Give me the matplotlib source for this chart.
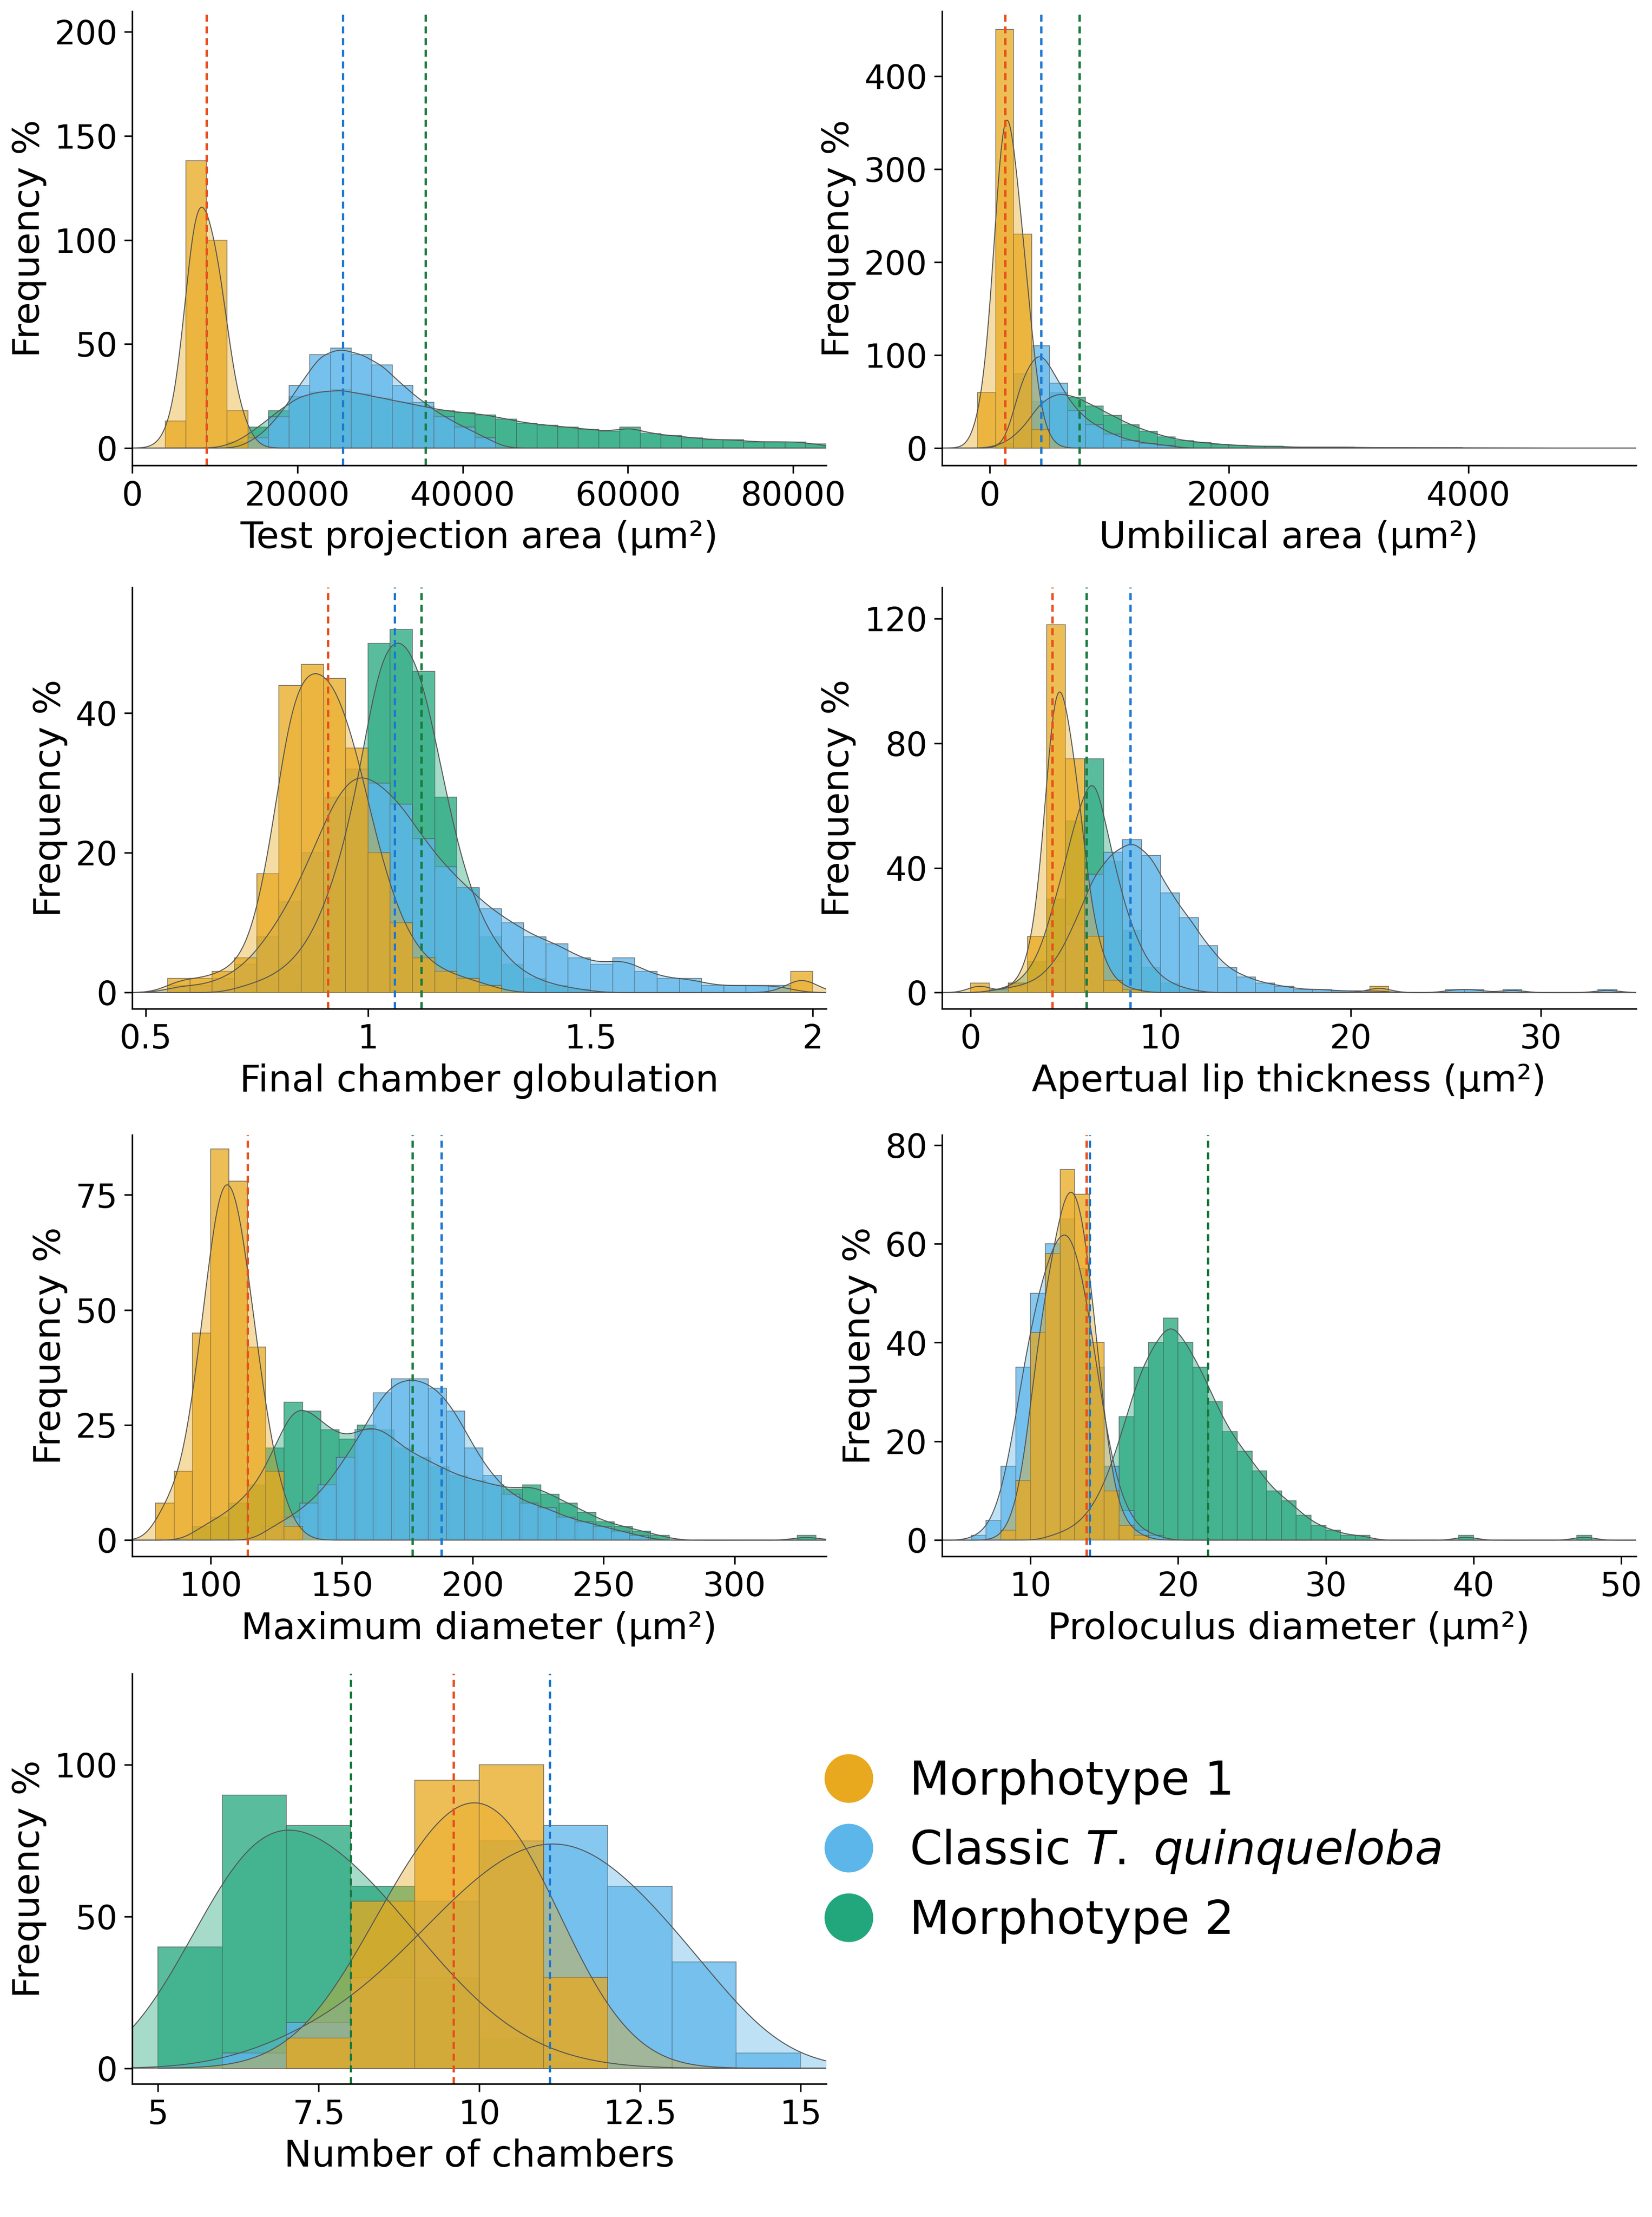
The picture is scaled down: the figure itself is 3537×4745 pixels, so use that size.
import numpy as np
import matplotlib
matplotlib.use("Agg")
import matplotlib.pyplot as plt
from matplotlib.lines import Line2D

plt.rcParams["font.family"] = ["DejaVu Sans"]
plt.rcParams["mathtext.fontset"] = "custom"
plt.rcParams["mathtext.it"] = "DejaVu Sans:italic"

C_ORANGE, C_BLUE, C_GREEN = "#E8A91E", "#5DB6EA", "#22A77C"
V_ORANGE, V_BLUE, V_GREEN = "#E8501E", "#1E78D0", "#1A7A3E"

# ---- data: (bin start, counts) per group, bin width, mean lines ----
p1_width = 2500
p1_orange = (4000, [13, 138, 100, 18])
p1_blue = (14000, [5, 15, 30, 45, 48, 45, 40, 30, 22, 15, 10, 5])
p1_green = (11500, [3, 10, 18, 25, 27, 28, 26, 24, 22, 20, 18, 17, 16, 14, 12, 11, 10, 9,
                    8, 10, 7, 6, 5, 4, 4, 3, 3, 3, 2])
p1_means = [9000, 25500, 35500]

p2_width = 150
p2_orange = (-100, [60, 450, 230, 20])
p2_blue = (200, [80, 110, 70, 40, 25, 15, 8, 5, 3])
p2_green = (50, [5, 20, 50, 60, 55, 45, 35, 25, 18, 12, 8, 6, 4, 3, 2, 2, 1, 1, 1, 1,
                 0.5, 0.5, 0.5, 0.3, 0.3, 0.3, 0.2, 0.2, 0.2, 0.1])
p2_means = [130, 430, 750]

p3_width = 0.05
p3_orange = (0.55, [2, 2, 3, 5, 17, 44, 47, 45, 35, 20, 10, 5, 3, 2, 1, 0, 0, 0, 0, 0, 0,
                    0, 0, 0, 0, 0, 0, 0, 3])
p3_blue = (0.55, [1, 1, 2, 4, 8, 13, 20, 28, 32, 30, 27, 22, 18, 15, 12, 10, 8, 7, 5, 4,
                  5, 3, 2, 2, 1, 1, 1, 1, 0])
p3_green = (0.7, [1, 2, 4, 8, 16, 28, 50, 52, 46, 28, 15, 8, 4, 2, 1, 0.5])
p3_means = [0.91, 1.06, 1.12]

p4_width = 1
p4_orange = (0, [3, 0, 3, 18, 118, 75, 18, 4, 1, 0, 0, 0, 0, 0, 0, 0, 0, 0, 0, 0, 0, 2])
p4_blue = (1, [1, 2, 4, 10, 22, 38, 45, 49, 44, 32, 24, 15, 8, 5, 3, 2, 1, 1, 0.5, 0.5,
               0.5, 0, 0, 0, 1, 1, 0, 1, 0, 0, 0, 0, 1])
p4_green = (1, [1, 3, 10, 30, 55, 75, 42, 20, 8, 3, 1])
p4_means = [4.3, 8.4, 6.1]

p5_width = 7
p5_orange = (79, [8, 15, 45, 85, 78, 42, 15, 3])
p5_blue = (120, [3, 5, 8, 12, 18, 24, 32, 35, 35, 33, 28, 20, 14, 10, 8, 7, 5, 4, 3, 2, 1])
p5_green = (93, [3, 5, 8, 12, 20, 30, 28, 24, 22, 25, 24, 20, 18, 16, 14, 13, 12, 11, 12,
                 10, 8, 6, 4, 3, 2, 1, 0, 0, 0, 0, 0, 0, 0, 1])
p5_means = [114, 188, 177]

p6_width = 1
p6_orange = (8, [2, 12, 42, 58, 75, 70, 40, 10, 3, 1])
p6_blue = (6, [1, 4, 15, 35, 50, 60, 65, 55, 35, 15, 6, 2, 1])
p6_green = (11, [1, 2, 4, 8, 15, 25, 35, 40, 45, 40, 35, 28, 22, 18, 14, 10, 8, 5, 3, 2,
                 1, 1, 0, 0, 0, 0, 0, 0, 1, 0, 0, 0, 0, 0, 0, 0, 1])
p6_means = [13.8, 14.0, 22.0]

p7_width = 1
p7_orange = (7, [10, 55, 95, 100, 30])
p7_blue = (6, [5, 15, 30, 55, 75, 80, 60, 35, 5])
p7_green = (5, [40, 90, 80, 60, 30, 10, 2])
p7_means = [9.6, 11.1, 8.0]

panels = [
    ("Test projection area (μm²)", p1_width, p1_orange, p1_blue, p1_green, p1_means,
     (0, 84000), [0, 20000, 40000, 60000, 80000], [0, 50, 100, 150, 200], 210, 0.6),
    ("Umbilical area (μm²)", p2_width, p2_orange, p2_blue, p2_green, p2_means,
     (-400, 5400), [0, 2000, 4000], [0, 100, 200, 300, 400], 470, 0.6),
    ("Final chamber globulation", p3_width, p3_orange, p3_blue, p3_green, p3_means,
     (0.47, 2.03), [0.5, 1.0, 1.5, 2], [0, 20, 40], 58, 0.7),
    ("Apertual lip thickness (μm²)", p4_width, p4_orange, p4_blue, p4_green, p4_means,
     (-1.5, 35), [0, 10, 20, 30], [0, 40, 80, 120], 130, 0.6),
    ("Maximum diameter (μm²)", p5_width, p5_orange, p5_blue, p5_green, p5_means,
     (70, 335), [100, 150, 200, 250, 300], [0, 25, 50, 75], 88, 0.7),
    ("Proloculus diameter (μm²)", p6_width, p6_orange, p6_blue, p6_green, p6_means,
     (4, 51), [10, 20, 30, 40, 50], [0, 20, 40, 60, 80], 82, 0.7),
    ("Number of chambers", p7_width, p7_orange, p7_blue, p7_green, p7_means,
     (4.6, 15.4), [5, 7.5, 10, 12.5, 15], [0, 50, 100], 130, 0.8),
]


def kde_curve(start, counts, width, x, bw):
    counts = np.asarray(counts, float)
    centers = start + width * (np.arange(len(counts)) + 0.5)
    d = (x[:, None] - centers[None, :]) / bw
    dens = (np.exp(-0.5 * d ** 2) / (bw * np.sqrt(2 * np.pi)) * counts).sum(1)
    return dens * width


fig = plt.figure(figsize=(11.793, 15.817), dpi=300)
boxes = [(0.08, 0.79, 0.42, 0.205), (0.57, 0.79, 0.42, 0.205),
         (0.08, 0.545, 0.42, 0.19), (0.57, 0.545, 0.42, 0.19),
         (0.08, 0.298, 0.42, 0.19), (0.57, 0.298, 0.42, 0.19),
         (0.08, 0.06, 0.42, 0.185)]

for box, (xlabel, w, po, pb, pg, means, xlim, xt, yt, ymax, bwf) in zip(boxes, panels):
    ax = fig.add_axes(box)
    x = np.linspace(xlim[0], xlim[1], 800)
    for (start, counts), col in [(pg, C_GREEN), (pb, C_BLUE), (po, C_ORANGE)]:
        lefts = start + w * np.arange(len(counts))
        ax.bar(lefts, counts, width=w, align="edge", color=col, alpha=0.75,
               edgecolor="#555555", linewidth=0.4)
        y = kde_curve(start, counts, w, x, w * bwf)
        ax.fill_between(x, y, color=col, alpha=0.4, linewidth=0)
        ax.plot(x, y, color="#555555", linewidth=0.5)
    for m, col in zip(means, [V_ORANGE, V_BLUE, V_GREEN]):
        ax.axvline(m, color=col, linestyle=(0, (3, 2)), linewidth=1.2)
    ax.set_xlim(*xlim)
    ax.set_xticks(xt)
    ax.set_xticklabels([f"{t:g}" for t in xt])
    ax.set_yticks(yt)
    ax.set_ylim(-0.04 * ymax, ymax)
    ax.set_xlabel(xlabel, fontsize=19)
    ax.set_ylabel("Frequency %", fontsize=19)
    ax.tick_params(labelsize=17, length=4)
    for s in ["top", "right"]:
        ax.spines[s].set_visible(False)

handles = [Line2D([], [], marker="o", linestyle="", markersize=24, color=c)
           for c in (C_ORANGE, C_BLUE, C_GREEN)]
labels = ["Morphotype 1", r"Classic $\it{T.\ quinqueloba}$", "Morphotype 2"]
fig.legend(handles, labels, loc="center left", bbox_to_anchor=(0.46, 0.165),
           frameon=False, fontsize=24, handletextpad=0.3, labelspacing=0.5)

fig.savefig("out.png", dpi=300)
